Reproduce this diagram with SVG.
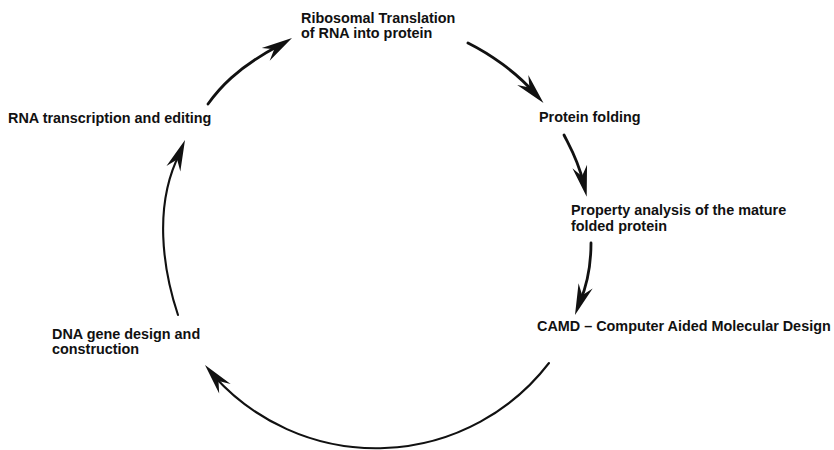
<svg xmlns="http://www.w3.org/2000/svg" xmlns:xlink="http://www.w3.org/1999/xlink" width="834" height="450" viewBox="0 0 834 450">
  <style>
    .label { font-family: "Liberation Sans", Arial, Helvetica, sans-serif; font-weight: bold; font-size: 14.4px; fill: #111; }
    .shaft { fill: none; stroke: #111; stroke-linecap: round; }
    .thick { stroke-width: 2.8; }
    .thin { stroke-width: 2.1; }
    .head { fill: #111; }
  </style>
  <defs>
    <!-- barbed dart head, tip at the origin, pointing along +x -->
    <path id="arrowhead" class="head" d="M0,0 L-31,-7.5 L-21,0 L-31,7.5 Z"/>
  </defs>

  <rect width="834" height="450" fill="#fff"/>

  <!-- cycle steps -->
  <g id="ribosomal-translation">
    <text class="label" x="301" y="23">Ribosomal Translation</text>
    <text class="label" x="301" y="38">of RNA into protein</text>
  </g>
  <g id="protein-folding">
    <text class="label" x="539" y="122">Protein folding</text>
  </g>
  <g id="property-analysis">
    <text class="label" x="571" y="215">Property analysis of the mature</text>
    <text class="label" x="571" y="231">folded protein</text>
  </g>
  <g id="camd">
    <text class="label" x="537" y="331">CAMD – Computer Aided Molecular Design</text>
  </g>
  <g id="dna-design">
    <text class="label" x="52" y="339">DNA gene design and</text>
    <text class="label" x="52" y="354">construction</text>
  </g>
  <g id="rna-transcription">
    <text class="label" x="8" y="123">RNA transcription and editing</text>
  </g>

  <!-- curved connectors around the cycle -->
  <g id="connectors">
    <path class="shaft thick" d="M208,104 C218,90 236,68 280,45"/>
    <use xlink:href="#arrowhead" transform="translate(292,38) rotate(-32)"/>

    <path class="shaft thick" d="M468,43 C490,54 516,72 534,92.6"/>
    <use xlink:href="#arrowhead" transform="translate(543.5,103) rotate(48)"/>

    <path class="shaft thick" d="M564,135 C570,147 578,160 583.5,183"/>
    <use xlink:href="#arrowhead" transform="translate(586.7,196.7) rotate(77)"/>

    <path class="shaft thick" d="M591,243 C591,262 587,285 580,302"/>
    <use xlink:href="#arrowhead" transform="translate(575,315) rotate(110)"/>

    <path class="shaft thin" d="M549,363 A218,218 0 0 1 214,376"/>
    <use xlink:href="#arrowhead" transform="translate(205,365) rotate(-130)"/>

    <path class="shaft thin" d="M178,315 C163,270 153,205 180,153"/>
    <use xlink:href="#arrowhead" transform="translate(185,140) rotate(-68)"/>
  </g>
</svg>
